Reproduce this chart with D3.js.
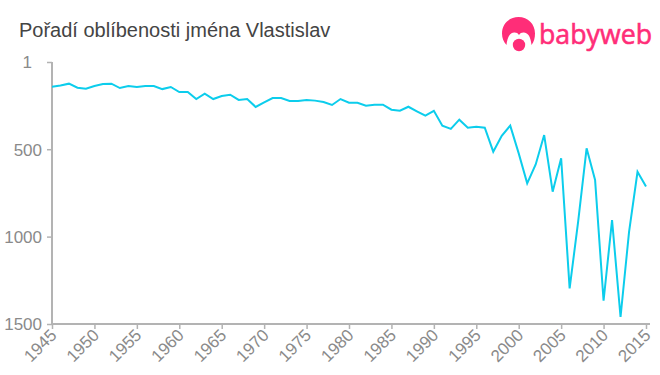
<!DOCTYPE html>
<html><head><meta charset="utf-8">
<script src="https://cdn.jsdelivr.net/npm/d3@7/dist/d3.min.js"></script>
<style>html,body{margin:0;padding:0;background:#fff}svg{display:block}text{font-family:"Liberation Sans",Arial,sans-serif}</style>
</head><body><svg id="c" width="660" height="375"></svg>
<script>
const titleText = "Pořadí oblíbenosti jména Vlastislav";
const brandText = "babyweb";
const years = d3.range(1945, 2016);
const ranks = [142,136,125,148,154,138,127,125,150,138,144,138,138,156,144,173,173,213,182,213,196,188,218,213,258,232,207,207,224,224,218,222,230,247,213,
  234,234,251,245,245,274,280,257,283,308,280,365,384,331,377,371,377,514,423,365,524,695,587,419,743,552,1296,916,495,676,1367,905,1460,974,629,714];
const xTicks = d3.range(1945, 2016, 5);
const yTicks = [1,500,1000,1500];

const svg = d3.select("#c");
const x = d3.scaleLinear().domain([1945,2015]).range([52,646]);
const y = d3.scaleLinear().domain([1,1500]).range([62,324]);
const axisColor = "#b3b3b3", labelColor = "#8a8a8a";

svg.append("text").attr("x",19).attr("y",37).attr("font-size",20).attr("fill","#444").text(titleText);

const gy = svg.append("g").attr("transform","translate(52,0)")
  .call(d3.axisLeft(y).tickValues(yTicks).tickFormat(d3.format("d")).tickSize(5).tickPadding(5));
const gx = svg.append("g").attr("transform","translate(0,324)")
  .call(d3.axisBottom(x).tickValues(xTicks).tickFormat(d3.format("d")).tickSize(5).tickPadding(3));
gx.select(".domain").attr("d","M51,0H650");
gy.select(".domain").attr("d","M0,62V325");
[gx,gy].forEach(g=>{
  g.selectAll(".domain").attr("stroke",axisColor).attr("stroke-width",2);
  g.selectAll(".tick line").attr("stroke",axisColor).attr("stroke-width",1.5);
  g.selectAll("text").attr("fill",labelColor).attr("font-size",17);
});
gy.selectAll(".tick text").attr("dy","0.35em")
  .filter(d=>d===1).attr("x",-20);
gx.selectAll(".tick text").attr("text-anchor","end").attr("x",0).attr("y",0).attr("dy","0.35em")
  .attr("transform","translate(1,8) rotate(-45)");

svg.append("path").datum(ranks)
  .attr("fill","none").attr("stroke","#0ccdec").attr("stroke-width",2).attr("stroke-linejoin","miter")
  .attr("d",d3.line().x((d,i)=>x(years[i])).y(d=>y(d)));

const logo = svg.append("g").attr("fill","#ff2d78");
logo.append("path").attr("d","M518.500,17C509,17 502,24 502,33.500C502,38 503.500,42 506.500,45C507,40 508.500,33 514,32.500C516,32.300 518,33 519,35C520,33 522,32.300 524,32.500C529.500,33 531,40 531.500,45C534,42 535,38 535,33.500C535,24 528,17 518.500,17Z");
logo.append("circle").attr("cx",519).attr("cy",45).attr("r",6.2);
svg.append("text").attr("x",539).attr("y",43.500).attr("font-size",27).attr("fill","#ff2d78").attr("stroke","#ff2d78").attr("stroke-width",0.6)
  .style("font-family","'Open Sans',Lato,sans-serif").attr("textLength",113).attr("lengthAdjust","spacingAndGlyphs").text(brandText);
</script></body></html>
